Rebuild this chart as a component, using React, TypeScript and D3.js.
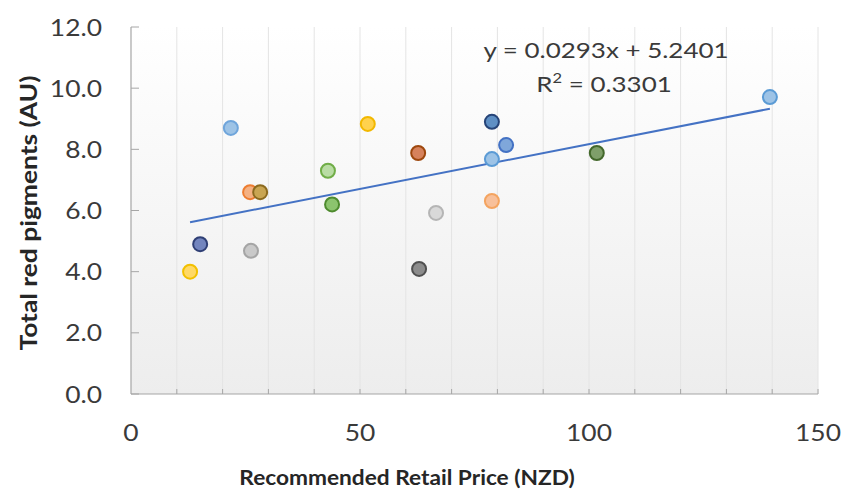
import React from "react";
import * as d3 from "d3";

const prices = [12.9, 15.1, 21.8, 26.0, 28.2, 26.2, 43.0, 43.9, 51.7, 62.7, 62.9, 66.6, 78.8, 78.8, 78.8, 81.9, 101.7, 139.5];
const pigments = [4.0, 4.9, 8.7, 6.6, 6.6, 4.68, 7.3, 6.2, 8.83, 7.88, 4.09, 5.92, 8.9, 7.68, 6.31, 8.14, 7.88, 9.71];
const fills = ["#FFD966", "#7385BE", "#9DC3E6", "#F4B183", "#C9A552", "#C9C9C9", "#B9DCA4", "#8CC46E", "#FFD24D", "#D6825C", "#8C8C8C", "#D9D9D9", "#5E8FC4", "#9DC3E6", "#F8C09A", "#7FA7DA", "#7F9F6A", "#9DC3E6"];
const strokes = ["#F2C000", "#2F3F75", "#6FA5DB", "#ED7D31", "#8C6A1E", "#A5A5A5", "#70AD47", "#4E8B2E", "#F2B800", "#9E480E", "#505050", "#B5B5B5", "#264478", "#5B9BD5", "#F4A460", "#4472C4", "#43682B", "#5B9BD5"];
const xTickLabels = [0, 50, 100, 150];
const yTickLabels = [0, 2, 4, 6, 8, 10, 12];
const slope = 0.0293;
const intercept = 5.2401;

export default function App() {
  const W = 842, H = 494;
  const left = 131, right = 818, top = 27, bottom = 394;
  const x = d3.scaleLinear().domain([0, 150]).range([left, right]);
  const y = d3.scaleLinear().domain([0, 12]).range([bottom, top]);
  const minorX = d3.range(10, 151, 10);
  const xMin = d3.min(prices)!;
  const xMax = d3.max(prices)!;
  const font = "Lato, 'Open Sans', sans-serif";
  return (
    <svg width={W} height={H} style={{ position: "absolute", left: 0, top: 0, background: "#fff" }}>
      <defs>
        <linearGradient id="bg" x1="0" y1="0" x2="0" y2="1">
          <stop offset="0" stopColor="#ffffff" />
          <stop offset="1" stopColor="#ededed" />
        </linearGradient>
      </defs>
      <rect x={left} y={top} width={right - left} height={bottom - top} fill="url(#bg)" />
      {minorX.map((v) => (
        <line key={"g" + v} x1={x(v)} x2={x(v)} y1={top} y2={bottom} stroke="#e4e4e4" strokeWidth={1} />
      ))}
      {minorX.map((v) => (
        <line key={"t" + v} x1={x(v)} x2={x(v)} y1={bottom} y2={bottom - 5} stroke="#a6a6a6" strokeWidth={1} />
      ))}
      {yTickLabels.map((v) => (
        <line key={"yt" + v} x1={left} x2={left + 8} y1={y(v)} y2={y(v)} stroke="#a6a6a6" strokeWidth={1} />
      ))}
      <line x1={left} x2={left} y1={top} y2={bottom} stroke="#a6a6a6" strokeWidth={1.2} />
      <line x1={left} x2={right} y1={bottom} y2={bottom} stroke="#a6a6a6" strokeWidth={1.2} />
      {yTickLabels.map((v) => (
        <text key={"yl" + v} transform={`translate(102, ${y(v)}) scale(1.1, 1)`} dy="0.36em" textAnchor="end" fontFamily={font} fontSize={24} fill="#3a3a3a">
          {d3.format(".1f")(v)}
        </text>
      ))}
      {xTickLabels.map((v) => (
        <text key={"xl" + v} transform={`translate(${x(v)}, 441) scale(1.1, 1)`} textAnchor="middle" fontFamily={font} fontSize={24} fill="#3a3a3a">
          {v}
        </text>
      ))}
      <line x1={x(xMin)} x2={x(xMax)} y1={y(slope * xMin + intercept)} y2={y(slope * xMax + intercept)} stroke="#4472C4" strokeWidth={2} />
      {prices.map((p, i) => (
        <circle key={"c" + i} cx={x(p)} cy={y(pigments[i])} r={7} fill={fills[i]} stroke={strokes[i]} strokeWidth={2} />
      ))}
      <text transform="translate(606, 58) scale(1.18, 1)" textAnchor="middle" fontFamily={font} fontSize={22} fill="#3a3a3a">
        y = 0.0293x + 5.2401
      </text>
      <text transform="translate(604, 92) scale(1.18, 1)" textAnchor="middle" fontFamily={font} fontSize={22} fill="#3a3a3a">
        R<tspan dy="-9" fontSize={14}>2</tspan><tspan dy="9"> = 0.3301</tspan>
      </text>
      <text transform="translate(407, 485) scale(1.08, 1)" textAnchor="middle" fontFamily={font} fontSize={21} fontWeight="bold" fill="#262626">
        Recommended Retail Price (NZD)
      </text>
      <text transform={`translate(37, 213) rotate(-90) scale(1.2, 1)`} textAnchor="middle" fontFamily={font} fontSize={22} fontWeight="bold" fill="#262626">
        Total red pigments (AU)
      </text>
    </svg>
  );
}
